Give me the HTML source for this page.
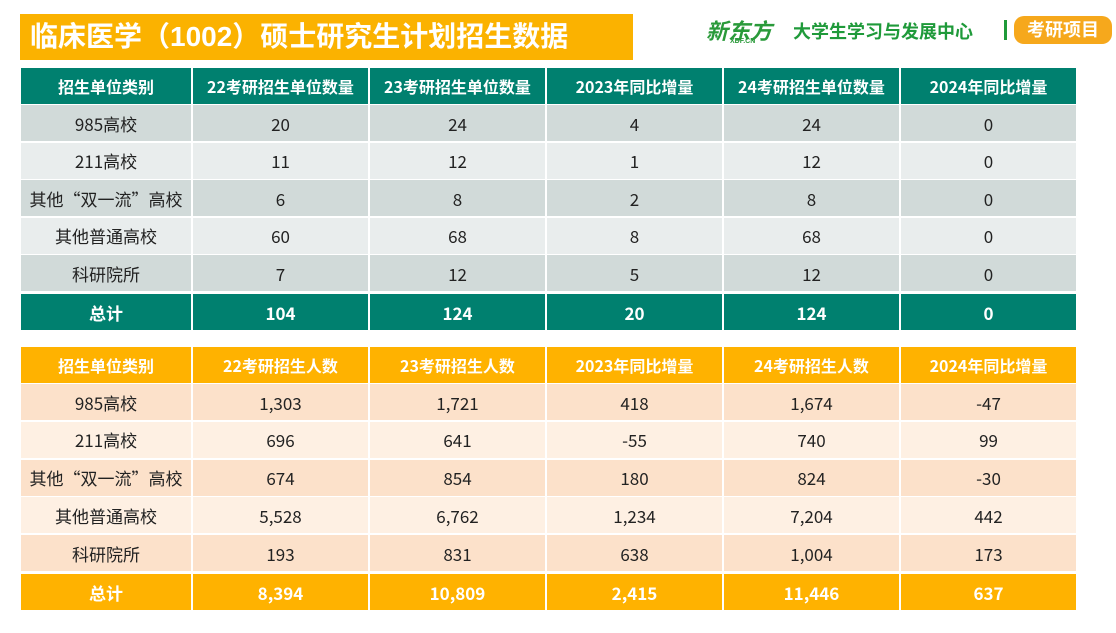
<!DOCTYPE html>
<html><head><meta charset="utf-8"><style>
body{margin:0;width:1116px;height:633px;background:#fff;position:relative;overflow:hidden;font-family:"Liberation Sans","Noto Sans CJK SC",sans-serif;}
.c{position:absolute;display:flex;align-items:center;justify-content:center;font-size:17px;color:#222;box-sizing:border-box;font-family:"Noto Sans CJK SC",sans-serif;line-height:1;}
.h{color:#fff;font-weight:bold;font-size:16px;}
.t{color:#fff;font-weight:bold;}
#title{position:absolute;left:20px;top:14px;width:613px;height:46px;background:#FBB200;color:#fff;font-size:28px;font-weight:bold;line-height:46px;padding-left:10px;box-sizing:border-box;}
</style></head><body>
<div id="title">临床医学（1002）硕士研究生计划招生数据</div>
<div style="position:absolute;left:706px;top:14px;font-size:22px;font-weight:bold;font-style:italic;color:#2a9a3a;">新东方</div>
<div style="position:absolute;left:730px;top:38px;font-size:7px;font-weight:bold;color:#2a9a3a;">XDF.CN</div>
<div style="position:absolute;left:793px;top:18px;font-size:18px;font-weight:bold;color:#1f9a3a;">大学生学习与发展中心</div>
<div style="position:absolute;left:1004px;top:20px;width:3px;height:20px;background:#1f9a3a;"></div>
<div style="position:absolute;left:1014px;top:16px;width:98px;height:28px;border-radius:10px;background:#F6A81C;color:#fff;font-size:18px;font-weight:bold;text-align:center;line-height:28px;">考研项目</div>
<script>
const xs=[21,192,369,546,723,900,1077];
function row(y,h,cells,bg,cls){cells.forEach((t,i)=>{const d=document.createElement('div');d.className='c '+(cls||'');d.style.cssText=`left:${xs[i]+(i?1:0)}px;top:${y}px;width:${xs[i+1]-xs[i]-(i?1:0)-1}px;height:${h}px;background:${bg}`;d.textContent=t;document.body.appendChild(d);});}
row(68,36,["招生单位类别","22考研招生单位数量","23考研招生单位数量","2023年同比增量","24考研招生单位数量","2024年同比增量"],"#00806F","h");
const a=[["985高校","20","24","4","24","0"],["211高校","11","12","1","12","0"],["其他“双一流”高校","6","8","2","8","0"],["其他普通高校","60","68","8","68","0"],["科研院所","7","12","5","12","0"]];
let y=105;a.forEach((r,i)=>{row(y,36,r,i%2?"#E9EDED":"#D1DAD9");y+=37.5;});
row(294,36,["总计","104","124","20","124","0"],"#00806F","t");
row(347,36,["招生单位类别","22考研招生人数","23考研招生人数","2023年同比增量","24考研招生人数","2024年同比增量"],"#FFB200","h");
const b=[["985高校","1,303","1,721","418","1,674","-47"],["211高校","696","641","-55","740","99"],["其他“双一流”高校","674","854","180","824","-30"],["其他普通高校","5,528","6,762","1,234","7,204","442"],["科研院所","193","831","638","1,004","173"]];
y=384;b.forEach((r,i)=>{row(y,36,r,i%2?"#FEF0E3":"#FCE1CA");y+=37.8;});
row(574,36,["总计","8,394","10,809","2,415","11,446","637"],"#FFB200","t");
</script>
</body></html>
